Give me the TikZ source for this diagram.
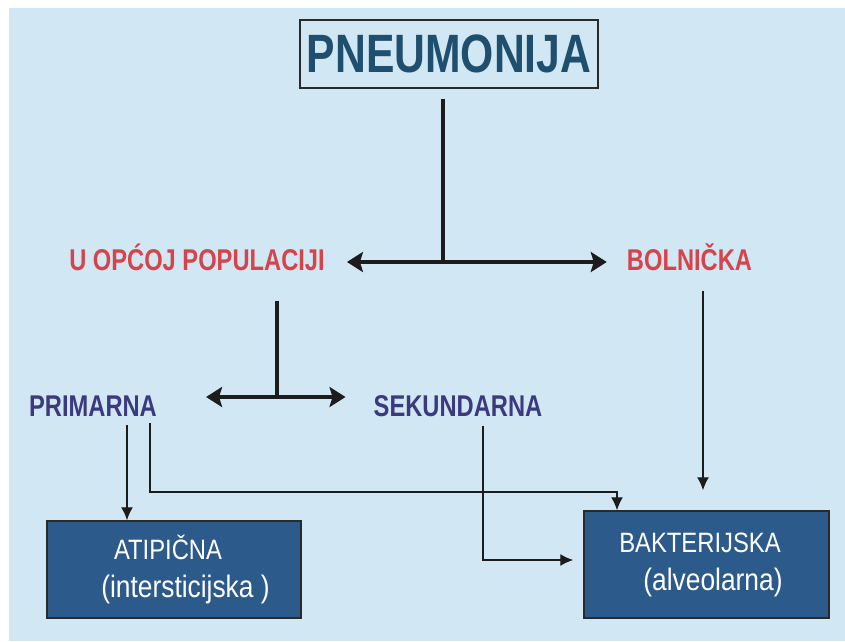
\documentclass[tikz,border=0pt]{standalone}
\usepackage{fontspec}
\setmainfont{Liberation Sans}
\newfontfamily\condfont[FakeStretch=0.79]{Liberation Sans}
\newfontfamily\boxfont[FakeStretch=0.85]{Liberation Sans}
\usepackage{tikz}
\usetikzlibrary{arrows.meta}
\usepackage{xcolor}
\definecolor{bgblue}{HTML}{D1E7F3}
\definecolor{titleblue}{HTML}{1F4F6F}
\definecolor{redlab}{HTML}{D6434B}
\definecolor{navylab}{HTML}{3B3A7E}
\definecolor{boxblue}{HTML}{2C5A8B}
\definecolor{framegray}{HTML}{2A2A2A}
\definecolor{linegray}{HTML}{1C1C1C}

\begin{document}
\begin{tikzpicture}[x=1pt,y=-1pt,
  heading/.style={draw=framegray, line width=1.5pt, minimum width=298pt, minimum height=68pt, inner sep=0pt, text=titleblue, font=\condfont\bfseries\fontsize{54}{60}\selectfont},
  redlabel/.style={anchor=base, inner sep=0pt, text=redlab, font=\condfont\bfseries\fontsize{30}{36}\selectfont},
  navylabel/.style={redlabel, text=navylab},
  kindbox/.style={draw=framegray, line width=1.5pt, fill=boxblue, text=white, align=center, inner sep=0pt, font=\boxfont\fontsize{28}{38}\selectfont},
  bar/.style={line width=4pt, draw=linegray},
  forkarrow/.style={line width=4pt, draw=linegray, {Stealth[length=16pt,width=20pt,inset=3pt]}-{Stealth[length=16pt,width=20pt,inset=3pt]}},
  lead/.style={line width=1.4pt, draw=linegray, -{Latex[length=13pt,width=12pt]}}]
\fill[bgblue] (9,8) rectangle (845,641);
\useasboundingbox (0,0) rectangle (845,641);
\node[heading] (pneu) at (449,54) {PNEUMONIJA};
\node[redlabel] (opca) at (197,270) {U OPĆOJ POPULACIJI};
\node[redlabel] (bolnicka) at (689.5,270) {BOLNIČKA};
\node[navylabel] (primarna) at (93,416) {PRIMARNA};
\node[navylabel] (sekundarna) at (458,416) {SEKUNDARNA};
\node[kindbox, minimum width=254pt, minimum height=97pt] (atipicna) at (174,569.5)
  {\hspace*{-12pt}ATIPIČNA\\{\fontsize{31}{38}\selectfont\hspace*{23pt}(intersticijska )}};
\node[kindbox, minimum width=245pt, minimum height=107pt] (bakterijska) at (706.5,564.5)
  {\hspace*{-13pt}BAKTERIJSKA\\{\fontsize{31}{38}\selectfont\hspace*{13pt}(alveolarna)}};
% prva razdioba
\coordinate (forkA) at (443,262);
\draw[bar] ([yshift=-10pt]forkA |- pneu.south) -- (forkA);
\draw[forkarrow, shorten <=22pt, shorten >=20pt] (opca.east |- forkA) -- (bolnicka.west |- forkA);
% druga razdioba
\coordinate (forkB) at (277,397);
\draw[bar] ([yshift=-30pt]forkB |- opca.south) -- (forkB);
\draw[forkarrow, shorten <=49pt, shorten >=28pt] (primarna.east |- forkB) -- (sekundarna.west |- forkB);
% prema uzrocniku
\coordinate (bendP) at (617,492);
\draw[lead] ([xshift=34pt,yshift=-9pt]primarna.south) -- ([xshift=34pt]primarna.south |- atipicna.north);
\draw[lead] ([xshift=57pt,yshift=-7pt]primarna.south) |- (bendP) -- (bendP |- bakterijska.north);
\draw[lead] ([xshift=25pt,yshift=-9pt]sekundarna.south) |- ([xshift=-10pt,yshift=4.5pt]bakterijska.west);
\draw[lead] ([xshift=13.5pt,yshift=-20pt]bolnicka.south) -- ([xshift=13.5pt,yshift=20pt]bolnicka.south |- bakterijska.north);
\end{tikzpicture}
\end{document}
